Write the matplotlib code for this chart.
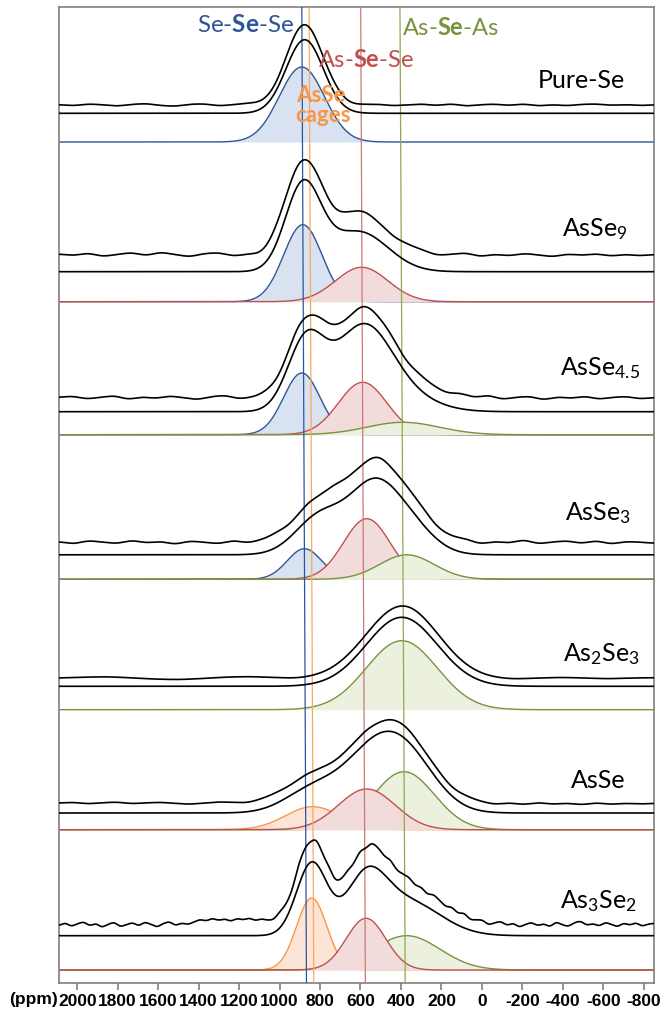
import numpy as np
import matplotlib
matplotlib.use("Agg")
from matplotlib import pyplot as plt

plt.rcParams['font.family'] = ['Lato', 'DejaVu Sans']
plt.rcParams['mathtext.fontset'] = 'custom'
plt.rcParams['mathtext.rm'] = 'Lato'
plt.rcParams['mathtext.it'] = 'Lato:italic'
plt.rcParams['mathtext.bf'] = 'Lato:bold'

def gauss(x, c, h, w):
    return h * np.exp(-0.5 * ((x - c) / w) ** 2)

# chemical shift axis (ppm)
ppm_ticks = [2000, 1800, 1600, 1400, 1200, 1000, 800, 600, 400, 200, 0, -200, -400, -600, -800]
tick_labels = [str(t) for t in ppm_ticks]

samples = ["Pure-Se", r"AsSe$_9$", r"AsSe$_{4.5}$", r"AsSe$_3$", r"As$_2$Se$_3$", "AsSe", r"As$_3$Se$_2$"]

# reference shifts (top, bottom of the drawn line)
site_names = ["SeSeSe", "cage", "AsSeSe", "AsSeAs"]
site_top = [890, 854, 599, 405]
site_bottom = [867, 831, 576, 379]

# fitted components: (site, centre ppm, height, width ppm)
comps_pure = [("SeSeSe", 890, 75.0, 112)]
comps_asse9 = [("SeSeSe", 885, 77.0, 95), ("AsSeSe", 594, 34.4, 130)]
comps_asse45 = [("SeSeSe", 890, 61.7, 90), ("AsSeSe", 589, 52.4, 120), ("AsSeAs", 390, 12.4, 180)]
comps_asse3 = [("SeSeSe", 877, 30.6, 85), ("AsSeSe", 569, 60.6, 115), ("AsSeAs", 371, 24.5, 135)]
comps_as2se3 = [("AsSeAs", 396, 69.0, 175)]
comps_asse = [("cage", 836, 23.0, 135), ("AsSeAs", 385, 58.0, 150), ("AsSeSe", 569, 40.7, 140)]
comps_as3se2 = [("cage", 841, 72.0, 75), ("AsSeAs", 372, 34.3, 165), ("AsSeSe", 573, 51.7, 98)]
comps = [comps_pure, comps_asse9, comps_asse45, comps_asse3, comps_as2se3, comps_asse, comps_as3se2]

# total fit line: (centre ppm, height, width ppm)
fit_pure = [(876, 73.6, 92)]
fit_asse9 = [(884, 85.0, 88), (610, 40.0, 145)]
fit_asse45 = [(870, 69.0, 90), (591, 81.0, 140), (392, 14.0, 160)]
fit_asse3 = [(800, 38.0, 120), (540, 64.0, 120), (360, 27.0, 120)]
fit_as2se3 = [(396, 69.0, 175)]
fit_asse = [(836, 23.0, 135), (569, 40.7, 140), (385, 58.0, 150)]
fit_as3se2 = [(841, 72.0, 75), (573, 51.7, 98), (372, 34.3, 165)]
fits = [fit_pure, fit_asse9, fit_asse45, fit_asse3, fit_as2se3, fit_asse, fit_as3se2]

# experimental trace relative to the fit
exp_scale = [1.08, 1.04, 1.02, 1.10, 1.05, 1.02, 1.15]
ripple_pure = [0.3, -0.6, 0.8, 0.2, -0.9, 0.5, 1.1, -0.4, -1.0, 0.6, 0.9, -0.7, 0.2, 1.2, -0.5,
               -1.3, 0.4, 0.7, -0.3, 0.9, -0.8, 0.3, 0.6, -0.6, 0.1, 0.8, -0.5, 1.0, -0.9, 0.2,
               0.7, -0.4, 0.9, -0.8, 0.3, -0.6, 0.5, 0.8, -0.3, 0.4, -0.5, 0.2]
ripple_asse9 = [0.8, -0.5, 1.6, -1.2, 0.4, 1.9, -0.6, 2.2, 0.3, -1.4, 1.1, 1.8, -0.9, 0.5, -1.6,
                1.3, 0.2, -0.8, 1.5, -1.1, 0.6, 1.9, -0.4, -1.5, 0.9, 1.4, -1.0, 0.3, 1.7, -1.3,
                0.6, -0.7, 1.2, 0.1, -1.4, 0.8, -0.3, 1.0, -0.9, 0.5, -0.6, 0.4]
ripple_asse45 = [0.6, 1.4, -0.8, 0.5, 1.8, -1.2, 0.9, -0.4, 1.6, 0.2, -1.3, 1.1, 2.0, -0.7, 0.3,
                 1.5, -1.0, 0.7, -1.6, 1.2, 0.4, -0.9, 1.7, -0.5, 0.8, -1.4, 1.0, 0.3, -1.1, 1.6,
                 -0.6, 2.0, -1.2, 0.5, 1.3, -1.5, 0.9, -0.3, 1.4, -1.0, 0.6, 1.1, -0.7, 0.4]
ripple_asse3 = [0.7, -1.2, 1.5, 0.3, -0.9, 1.8, -0.4, 0.9, -1.5, 1.2, 0.2, -1.0, 1.6, -0.6, 0.8,
                1.9, -0.8, 0.4, -1.3, 2.0, 0.5, -0.7, 1.1, -1.2, 0.6, 1.4, -0.9, 0.2, 1.7, -1.4,
                0.8, -0.5, 2.2, -1.1, 0.4, 1.3, -0.8, 1.5, -1.3, 0.7, 0.3, -0.6]
ripple_as2se3 = [0.2, 0.8, 1.2, 0.4, -0.6, -1.0, -0.2, 0.9, 1.3, 0.6, -0.4, 0.3, 0.8, 0.2, -0.5,
                 0.4, 1.0, 0.5, -0.3, -0.8, 0.1, 0.7, 0.3, -0.4, 0.2, 0.5]
ripple_asse = [0.4, 0.9, -0.3, 0.6, 1.1, -0.2, 0.5, 0.9, 0.1, -0.6, 0.4, 1.2, 0.6, -0.3, 0.8,
               1.0, 0.2, 1.4, 0.5, -0.4, 0.3, 0.9, -0.5, 0.6, 1.1, -0.2, 0.4, -0.8, 0.7, 0.2,
               -1.1, 0.5, -0.9, 0.8, -0.6, 0.3, -1.0, 0.6, -0.7, 0.2, -0.4, 0.1]
ripple_as3se2 = [-0.5, 1.8, -1.2, 0.9, 2.5, -0.8, 1.4, -2.0, 0.6, 2.2,
                 -1.5, 0.3, 1.9, -0.9, 2.4, 0.4, -1.7, 1.2, 2.6, -0.6,
                 1.6, 0.2, 2.3, 4.1, 2.8, 5.0, 3.2, 4.6, 2.5, 4.9,
                 3.6, 5.2, 3.0, 4.4, 2.7, 1.5, 3.8, 1.0, -0.8, 2.2,
                 0.5, -1.6, 1.8, -0.4, 2.0, -1.2, 0.7, 2.4, -0.9, 1.3,
                 -1.8, 1.6, 0.2, -1.4, 2.1, -0.6, 1.0, 2.3, -1.1, 0.8,
                 -2.0, 1.5, 0.3, -1.3, 1.9, -0.5, 2.6, -1.0, 0.6, 1.7,
                 -1.5, 0.9, 2.2, -0.8, 1.4, -1.9, 0.4, 2.0, -0.7, 1.1,
                 -1.6, 2.5, 0.1, -1.2, 1.8, 3.0, -0.4, 1.2, -1.0, 2.1,
                 0.5, -1.5, 1.6, -0.3, 1.9, -1.1, 0.7, 1.3]
ripples = [ripple_pure, ripple_asse9, ripple_asse45, ripple_asse3, ripple_as2se3, ripple_asse, ripple_as3se2]

# layout: vertical offsets of the three traces in each panel (pixel-like units)
base_comp = [841, 681.3, 548.3, 403.7, 273.3, 153.3, 13]
base_fit = [869.7, 711.3, 571.3, 428.2, 296.7, 170, 47.3]
base_exp = [878, 728, 585, 440.5, 304.7, 179.5, 58]
label_pos = [(625, 88), (628, 236), (640, 375), (631, 520), (640, 661), (626, 788), (637, 908)]

line_col = {"SeSeSe": "#2F5597", "cage": "#F79646", "AsSeSe": "#C0504D", "AsSeAs": "#77933C"}
fill_col = {"SeSeSe": "#D9E2F0", "cage": "#FCE4D6", "AsSeSe": "#F2DCDB", "AsSeAs": "#EBF1DE"}
vline_col = {"SeSeSe": "#2F5597", "cage": "#F9A95E", "AsSeSe": "#CD7774", "AsSeAs": "#8EAA50"}

x_left, x_right = 2090, -852
y_top = 976.5
x = np.linspace(x_left, x_right, 2500)

def ripple(xx, amps):
    nodes = np.linspace(x_left, x_right, len(amps))
    step = abs(nodes[1] - nodes[0])
    out = np.zeros_like(xx)
    for a, n in zip(amps, nodes):
        out += a * np.exp(-0.5 * ((xx - n) / (0.55 * step)) ** 2)
    return out

fig = plt.figure(figsize=(6.6, 10.12), dpi=100)
ax = fig.add_axes([59 / 660, 28 / 1012, (654.3 - 59) / 660, 976.5 / 1012])

for i in range(len(samples)):
    for site, c, h, w in comps[i]:
        g = gauss(x, c, h, w)
        ax.fill_between(x, base_comp[i], base_comp[i] + g, color=fill_col[site], lw=0, zorder=2)
        ax.plot(x, base_comp[i] + g, color=line_col[site], lw=1.0, zorder=2)
    fit = np.zeros_like(x)
    for c, h, w in fits[i]:
        fit += gauss(x, c, h, w)
    ax.plot(x, base_fit[i] + fit, color="black", lw=1.2, zorder=4)
    ax.plot(x, base_exp[i] + exp_scale[i] * fit + ripple(x, ripples[i]), color="black", lw=1.2, zorder=4)
    px, py = label_pos[i]
    fig.text(px / 660, 1 - py / 1012, samples[i], ha="right", va="baseline", fontsize=18, color="black")

for s, t, b in zip(site_names, site_top, site_bottom):
    ax.plot([t, b], [y_top, 0], color=vline_col[s], lw=0.9, zorder=3)

# site labels at the top
fig.text(246 / 660, 1 - 25 / 1012, r"Se-$\mathbf{Se}$-Se", ha="center", va="center", fontsize=17.5, color="#2F5597")
fig.text(366 / 660, 1 - 60 / 1012, r"As-$\mathbf{Se}$-Se", ha="center", va="center", fontsize=17, color="#C0504D")
fig.text(450 / 660, 1 - 28 / 1012, r"As-$\mathbf{Se}$-As", ha="center", va="center", fontsize=17, color="#77933C")
fig.text(321 / 660, 1 - 95 / 1012, "AsSe", ha="center", va="center", fontsize=16, fontweight="bold", color="#F79646", zorder=6)
fig.text(323 / 660, 1 - 115 / 1012, "cages", ha="center", va="center", fontsize=16, fontweight="bold", color="#F79646", zorder=6)

ax.set_xlim(x_left, x_right)
ax.set_ylim(0, y_top)
ax.set_yticks([])
ax.set_xticks(ppm_ticks, labels=tick_labels)
ax.tick_params(axis="x", direction="out", length=5, width=1.2, color="#7F7F7F", pad=2)
for lbl in ax.get_xticklabels():
    lbl.set_fontfamily(["Liberation Sans Narrow", "Liberation Sans"])
    lbl.set_fontweight("bold")
    lbl.set_fontsize(12.5)
for sp in ax.spines.values():
    sp.set_color("#7F7F7F")
    sp.set_linewidth(1.2)

fig.text(9 / 660, 1 - 1000 / 1012, "(ppm)", ha="left", va="center", fontsize=12.5,
         fontweight="bold", family=["Liberation Sans Narrow", "Liberation Sans"])

fig.savefig("out.png", dpi=100)
